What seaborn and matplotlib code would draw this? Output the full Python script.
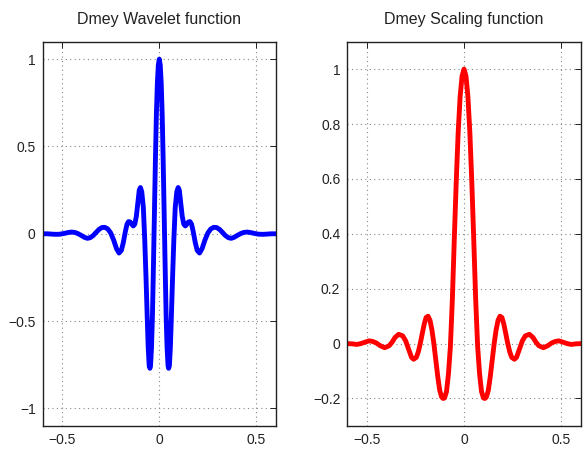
import pandas as pd
import matplotlib
matplotlib.use("Agg")
import matplotlib.pyplot as plt
import seaborn as sns

# values
psi_x = [-0.6, -0.575, -0.55, -0.53, -0.51, -0.49, -0.47, -0.453, -0.435, -0.42,
         -0.40, -0.385, -0.37, -0.355, -0.34, -0.325, -0.31, -0.295, -0.28, -0.265,
         -0.25, -0.235, -0.22, -0.207, -0.195, -0.185, -0.175, -0.166, -0.158, -0.15,
         -0.142, -0.134, -0.126, -0.118, -0.11, -0.103, -0.097, -0.09, -0.082, -0.075,
         -0.068, -0.062, -0.057, -0.052, -0.048, -0.045, -0.04, -0.035, -0.03, -0.025,
         -0.02, -0.015, -0.01, -0.005, 0.0,
         0.005, 0.01, 0.015, 0.02, 0.025, 0.03, 0.035, 0.04, 0.045, 0.048,
         0.052, 0.057, 0.062, 0.068, 0.075, 0.082, 0.09, 0.097, 0.103, 0.11,
         0.118, 0.126, 0.134, 0.142, 0.15, 0.158, 0.166, 0.175, 0.185, 0.195,
         0.207, 0.22, 0.235, 0.25, 0.265, 0.28, 0.295, 0.31, 0.325, 0.34,
         0.355, 0.37, 0.385, 0.40, 0.42, 0.435, 0.453, 0.47, 0.49, 0.51,
         0.53, 0.55, 0.575, 0.6]
psi_y = [0.0, 0.0, -0.002, -0.003, -0.002, 0.002, 0.007, 0.010, 0.008, 0.002,
         -0.010, -0.020, -0.026, -0.022, -0.010, 0.008, 0.025, 0.036, 0.037, 0.028,
         0.005, -0.035, -0.085, -0.11, -0.095, -0.05, 0.01, 0.055, 0.07, 0.068,
         0.055, 0.045, 0.055, 0.10, 0.18, 0.25, 0.265, 0.24, 0.15, -0.03,
         -0.26, -0.48, -0.65, -0.755, -0.77, -0.755, -0.65, -0.46, -0.18, 0.12,
         0.42, 0.68, 0.86, 0.965, 1.0,
         0.965, 0.86, 0.68, 0.42, 0.12, -0.18, -0.46, -0.65, -0.755, -0.77,
         -0.755, -0.65, -0.48, -0.26, -0.03, 0.15, 0.24, 0.265, 0.25, 0.18,
         0.10, 0.055, 0.045, 0.055, 0.068, 0.07, 0.055, 0.01, -0.05, -0.095,
         -0.11, -0.085, -0.035, 0.005, 0.028, 0.037, 0.036, 0.025, 0.008, -0.010,
         -0.022, -0.026, -0.020, -0.010, 0.002, 0.008, 0.010, 0.007, 0.002, -0.002,
         -0.003, -0.002, 0.0, 0.0]

phi_x = [-0.6, -0.575, -0.55, -0.53, -0.51, -0.488, -0.47, -0.45, -0.43, -0.408,
         -0.385, -0.37, -0.355, -0.336, -0.315, -0.30, -0.29, -0.28, -0.27, -0.259,
         -0.245, -0.235, -0.225, -0.215, -0.205, -0.195, -0.185, -0.175, -0.165, -0.155,
         -0.145, -0.135, -0.125, -0.115, -0.107, -0.10, -0.09, -0.08, -0.07, -0.06,
         -0.05, -0.04, -0.03, -0.02, -0.01, 0.0,
         0.01, 0.02, 0.03, 0.04, 0.05, 0.06, 0.07, 0.08, 0.09, 0.10,
         0.107, 0.115, 0.125, 0.135, 0.145, 0.155, 0.165, 0.175, 0.185, 0.195,
         0.205, 0.215, 0.225, 0.235, 0.245, 0.259, 0.27, 0.28, 0.29, 0.30,
         0.315, 0.336, 0.355, 0.37, 0.385, 0.408, 0.43, 0.45, 0.47, 0.488,
         0.51, 0.53, 0.55, 0.575, 0.6]
phi_y = [0.0, -0.001, -0.003, 0.0, 0.005, 0.010, 0.008, 0.002, -0.008, -0.015,
         -0.008, 0.005, 0.022, 0.034, 0.028, 0.01, -0.01, -0.03, -0.05, -0.057,
         -0.05, -0.03, 0.0, 0.035, 0.07, 0.095, 0.10, 0.085, 0.05, 0.0,
         -0.06, -0.12, -0.17, -0.195, -0.20, -0.198, -0.175, -0.11, -0.01, 0.16,
         0.38, 0.59, 0.77, 0.90, 0.975, 1.0,
         0.975, 0.90, 0.77, 0.59, 0.38, 0.16, -0.01, -0.11, -0.175, -0.198,
         -0.20, -0.195, -0.17, -0.12, -0.06, 0.0, 0.05, 0.085, 0.10, 0.095,
         0.07, 0.035, 0.0, -0.03, -0.05, -0.057, -0.05, -0.03, -0.01, 0.01,
         0.028, 0.034, 0.022, 0.005, -0.008, -0.015, -0.008, 0.002, 0.008, 0.010,
         0.005, 0.0, -0.003, -0.001, 0.0]

psi_ticks = [-1, -0.5, 0, 0.5, 1]
phi_ticks = [-0.2, 0, 0.2, 0.4, 0.6, 0.8, 1]
x_ticks = [-0.5, 0, 0.5]

sns.set_style("white")
plt.rcParams["font.family"] = ["Liberation Sans", "DejaVu Sans"]

psi_df = pd.DataFrame({"x": psi_x, "y": psi_y})
phi_df = pd.DataFrame({"x": phi_x, "y": phi_y})

fig = plt.figure(figsize=(5.84, 4.58), dpi=100)
ax1 = fig.add_axes([0.073, 0.070, 0.3995, 0.839])
ax2 = fig.add_axes([0.5947, 0.070, 0.3997, 0.839])

sns.lineplot(data=psi_df, x="x", y="y", ax=ax1, color="#0000ff", lw=3.5,
             estimator=None, sort=False)
sns.lineplot(data=phi_df, x="x", y="y", ax=ax2, color="#ff0000", lw=3.5,
             estimator=None, sort=False)


def fmt(v):
    return ("\u2212" + f"{abs(v):g}") if v < 0 else f"{v:g}"


setups = [
    (ax1, "Dmey Wavelet function", (-1.1, 1.1), psi_ticks),
    (ax2, "Dmey Scaling function", (-0.3, 1.1), phi_ticks),
]
for ax, title, ylim, yt in setups:
    ax.set_xlim(-0.6, 0.6)
    ax.set_ylim(*ylim)
    ax.set_xticks(x_ticks)
    ax.set_yticks(yt)
    ax.set_xticklabels([fmt(v) for v in x_ticks])
    ax.set_yticklabels([fmt(v) for v in yt])
    ax.set_xlabel("")
    ax.set_ylabel("")
    ax.set_title(title, fontsize=11.5, pad=13, color="#222222")
    ax.grid(True, linestyle=(0, (1, 3)), color="#888888", linewidth=0.8)
    ax.tick_params(direction="in", length=4, width=0.7, labelsize=10,
                   top=True, right=True, colors="#222222", pad=5)
    for s in ax.spines.values():
        s.set_color("#222222")
        s.set_linewidth(1.0)

fig.savefig("out.png", dpi=100)
